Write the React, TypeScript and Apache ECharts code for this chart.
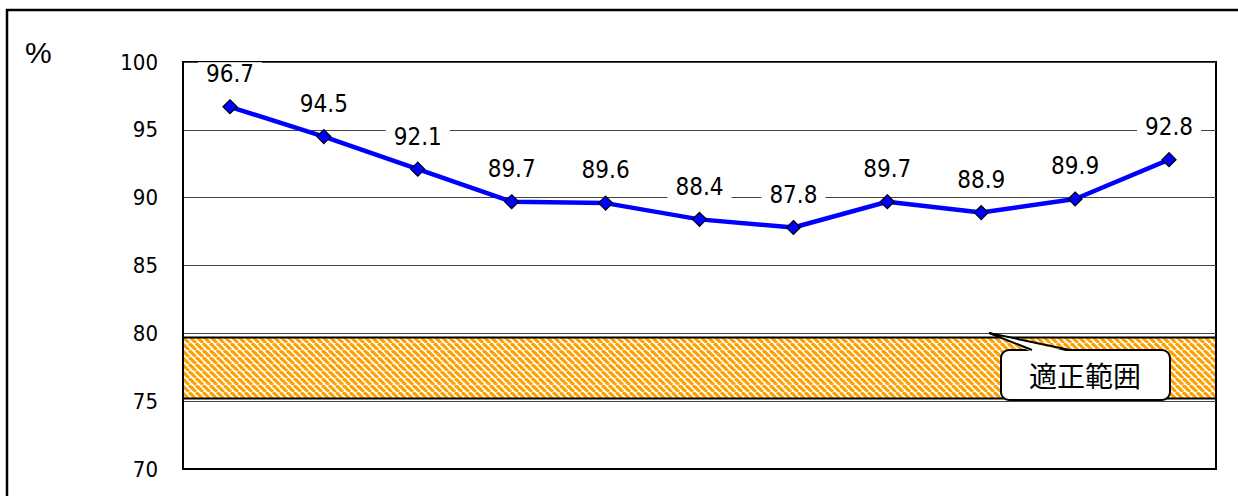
import React, { useEffect, useRef } from "react";
import * as echarts from "echarts";

const categories = ["1", "2", "3", "4", "5", "6", "7", "8", "9", "10", "11"];
const values = [96.7, 94.5, 92.1, 89.7, 89.6, 88.4, 87.8, 89.7, 88.9, 89.9, 92.8];
const yMin = 70;
const yMax = 100;
const yInterval = 5;
const rangeBand = [75.2, 79.7];
const rangeLabel = "適正範囲";
const unitLabel = "%";

function makeStripe(): string {
  const s = 7;
  const c = document.createElement("canvas");
  c.width = s;
  c.height = s;
  const ctx = c.getContext("2d")!;
  ctx.fillStyle = "#ffffff";
  ctx.fillRect(0, 0, s, s);
  ctx.strokeStyle = "#FFA000";
  ctx.lineWidth = 3.2;
  for (let k = -1; k <= 1; k++) {
    ctx.beginPath();
    ctx.moveTo(k * s, 0);
    ctx.lineTo(k * s + s, s);
    ctx.stroke();
  }
  return c.toDataURL();
}

export default function App() {
  const ref = useRef<HTMLDivElement>(null);
  useEffect(() => {
    document.body.style.margin = "0";
    if (!ref.current) return;
    const chart = echarts.init(ref.current, null, { renderer: "svg" });
    const stripe = makeStripe();
    const narrow = "'Liberation Sans Narrow', 'DejaVu Sans Condensed', Arial, sans-serif";
    const font = "'Liberation Sans', Arial, sans-serif";
    chart.setOption({
      animation: false,
      backgroundColor: "#ffffff",
      grid: {
        left: 183,
        right: 22,
        top: 62,
        bottom: 27,
        show: true,
        borderColor: "#000",
        borderWidth: 2,
        backgroundColor: "transparent",
      },
      xAxis: {
        type: "category",
        data: categories,
        boundaryGap: true,
        axisLine: { show: true, lineStyle: { color: "#000", width: 2 } },
        axisTick: { show: false },
        axisLabel: { show: false },
        splitLine: { show: false },
      },
      yAxis: {
        type: "value",
        min: yMin,
        max: yMax,
        interval: yInterval,
        axisLine: { show: true, lineStyle: { color: "#000", width: 2 } },
        axisTick: { show: false },
        axisLabel: { color: "#000", fontSize: 22, fontFamily: narrow, margin: 25 },
        splitLine: { show: true, lineStyle: { color: "#444", width: 1 } },
      },
      series: [
        {
          type: "line",
          data: values,
          z: 5,
          lineStyle: { color: "#0000FF", width: 4.5 },
          symbol: "diamond",
          symbolSize: 14,
          itemStyle: { color: "#0000FF", borderColor: "#000", borderWidth: 1.2 },
          label: {
            show: true,
            position: "top",
            distance: 13,
            color: "#000",
            fontSize: 24,
            fontFamily: narrow,
            backgroundColor: "#fff",
            padding: [0, 8],
            formatter: (p: any) => p.value.toFixed(1),
          },
          markArea: {
            silent: true,
            z: 1,
            itemStyle: {
              color: {
                image: stripe,
                repeat: "repeat",
                imageWidth: 7,
                imageHeight: 7,
              } as any,
              borderColor: "#000",
              borderWidth: 2,
            },
            data: [[{ yAxis: rangeBand[0] }, { yAxis: rangeBand[1] }]],
          },
        },
      ],
      graphic: [
        {
          type: "rect",
          shape: { x: 7, y: 10, width: 1260, height: 520 },
          style: { fill: "none", stroke: "#000", lineWidth: 2.5 },
          z: 0,
          silent: true,
        },
        {
          type: "text",
          x: 25,
          y: 52,
          style: { text: unitLabel, fontSize: 30, fontFamily: font, fill: "#000", verticalAlign: "middle" },
        },
        {
          type: "rect",
          shape: { x: 1001, y: 350, width: 169, height: 50, r: 8 },
          style: { fill: "#fff", stroke: "#000", lineWidth: 2 },
          z: 100,
        },
        {
          type: "polygon",
          shape: { points: [[989, 333], [1032, 352], [1070, 352]] },
          style: { fill: "#fff", stroke: "none" },
          z: 101,
        },
        {
          type: "polyline",
          shape: { points: [[1032, 350], [989, 333], [1070, 350]] },
          style: { fill: "none", stroke: "#000", lineWidth: 2 },
          z: 102,
        },
        {
          type: "text",
          x: 1085,
          y: 375,
          style: {
            text: rangeLabel,
            fontSize: 28,
            fontFamily: "'Noto Sans CJK JP', sans-serif",
            fill: "#000",
            align: "center",
            verticalAlign: "middle",
          },
          z: 103,
        },
      ],
    });
    return () => chart.dispose();
  }, []);
  return <div ref={ref} style={{ width: 1238, height: 496 }} />;
}
